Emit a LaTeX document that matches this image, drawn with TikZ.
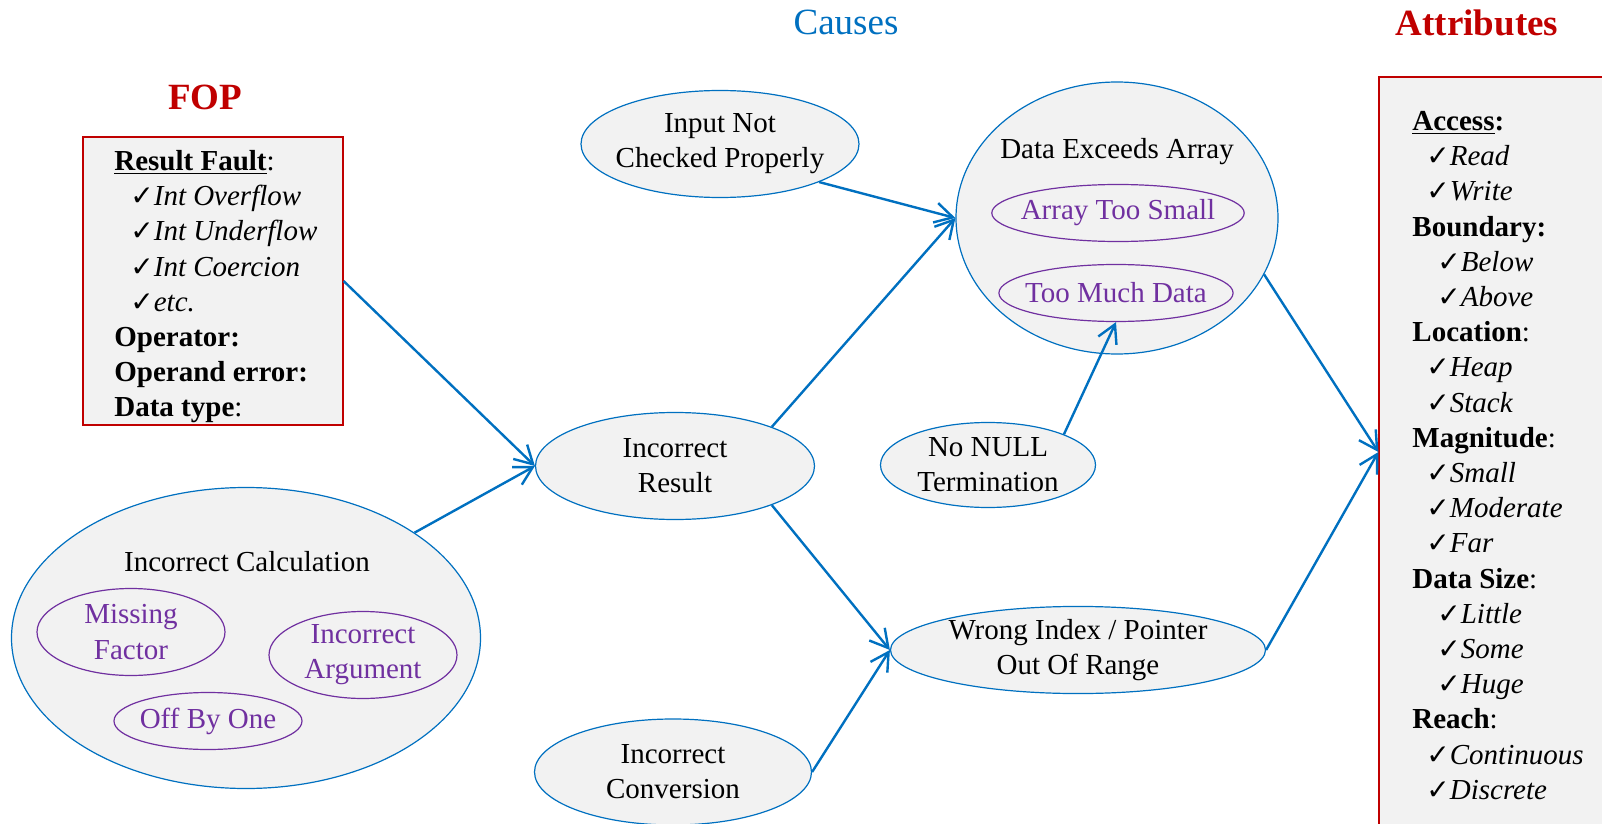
\documentclass[tikz,border=0pt]{standalone}
\usepackage{fontspec}
\setmainfont{Liberation Serif}
\newfontfamily\chkfont{DejaVu Sans}
\usepackage{tikz}
\usetikzlibrary{shapes.geometric,arrows.meta}
\definecolor{cblue}{HTML}{0070C0}
\definecolor{cred}{HTML}{C00000}
\definecolor{cpurp}{HTML}{7030A0}
\definecolor{cgray}{HTML}{F2F2F2}
\newcommand{\ck}{{\chkfont\fontsize{14}{14}\selectfont ✓}}
\newcommand{\itm}[2]{\hspace*{#1}\ck\textit{#2}}

\begin{document}
\begin{tikzpicture}[x=0.5pt,y=-0.5pt,
		every node/.style={font=\fontsize{14.5}{17.6}\selectfont},
		head/.style={font=\fontsize{18.5}{20}\selectfont},
		cause/.style={ellipse,draw=cblue,fill=cgray,line width=0.6pt,inner sep=0pt,align=center},
		sub/.style={ellipse,draw=cpurp,line width=0.6pt,inner xsep=-4pt,inner ysep=0pt,text=cpurp,align=center},
		panel/.style={rectangle,draw=cred,fill=cgray,line width=0.6pt},
		link/.style={color=cblue,line width=1.2pt,-{Straight Barb[length=9pt,width=10pt]}}]
			\useasboundingbox (0,0) rectangle (1602,824);
			% titles
			\node[head,text=cred] (tfop) at (205,97) {\textbf{FOP}};
			\node[head,text=cblue] (tcause) at (846,22) {Causes};
			\node[head,text=cred] (tattr) at (1477,23) {\textbf{Attributes}};
			% left: FOP box
			\node[panel,minimum width=130pt,minimum height=144pt] (fop) at (213,281) {};
			\node[anchor=north west,align=left,inner sep=0pt] (foptext) at (114,150)
			{
				\textbf{\underline{Result Fault}}:\\
				\itm{8pt}{Int Overflow}\\
				\itm{8pt}{Int Underflow}\\
				\itm{8pt}{Int Coercion}\\
				\itm{8pt}{etc.}\\
				\textbf{Operator:}\\
				\textbf{Operand error:}\\
				\textbf{Data type}:
			};
			% left: calculation
			\node[cause,minimum width=234.5pt,minimum height=150.5pt] (ic) at (246,638) {};
			\node (ictext) at (247,562) {Incorrect Calculation};
			\node[sub,minimum width=94pt,minimum height=43.5pt] (mf) at (131,632) {Missing\\Factor};
			\node[sub,minimum width=94pt,minimum height=43.5pt] (ia) at (363,655) {Incorrect\\Argument};
			\node[sub,minimum width=94pt,minimum height=28.5pt] (obo) at (208,721) {Off By One};
			% causes
			\node[cause,inner xsep=-3pt,minimum width=139pt,minimum height=53.5pt] (inc) at (720,144) {Input Not\\Checked Properly};
			\node[cause,minimum width=139.5pt,minimum height=53.5pt] (ir) at (675,466) {Incorrect\\Result};
			\node[cause,minimum width=138.5pt,minimum height=53pt] (cv) at (673,772) {Incorrect\\Conversion};
			\node[cause,minimum width=107.5pt,minimum height=42.5pt] (nn) at (988,465) {No NULL\\Termination};
			\node[cause,minimum width=187.5pt,minimum height=43pt] (wi) at (1078,650) {Wrong Index / Pointer\\Out Of Range};
			\node[cause,minimum width=161pt,minimum height=136pt] (dea) at (1117,218) {};
			\node (deatext) at (1117,152) {Data Exceeds Array};
			\node[sub,minimum width=126pt,minimum height=28.5pt] (ats) at (1118,213) {Array Too Small};
			\node[sub,minimum width=117pt,minimum height=28.5pt] (tmd) at (1116,293) {Too Much Data};
			% right: attributes box
			\node[panel,minimum width=130pt,minimum height=375pt] (attr) at (1509,452) {};
			\node[anchor=north west,align=left,inner sep=0pt] (attrtext) at (1412,111)
			{
				\textbf{\underline{Access}:}\\
				\itm{7pt}{Read}\\
				\itm{7pt}{Write}\\
				\textbf{Boundary:}\\
				\itm{12.5pt}{Below}\\
				\itm{12.5pt}{Above}\\
				\textbf{Location}:\\
				\itm{7pt}{Heap}\\
				\itm{7pt}{Stack}\\
				\textbf{Magnitude}:\\
				\itm{7pt}{Small}\\
				\itm{7pt}{Moderate}\\
				\itm{7pt}{Far}\\
				\textbf{Data Size}:\\
				\itm{12.5pt}{Little}\\
				\itm{12.5pt}{Some}\\
				\itm{12.5pt}{Huge}\\
				\textbf{Reach}:\\
				\itm{7pt}{Continuous}\\
				\itm{7pt}{Discrete}
			};
			\path[link]
			(fop.east) edge (ir.west)
			(ic.32) edge (ir.west)
			(inc.-21) edge (dea.west)
			(ir.22) edge (dea.west)
			(ir.-22) edge (wi.west)
			(cv.east) edge (wi.west)
			(nn.22) edge (tmd.south)
			(dea.-21) edge (attr.west)
			(wi.east) edge (attr.west);
		\end{tikzpicture}
\end{document}
